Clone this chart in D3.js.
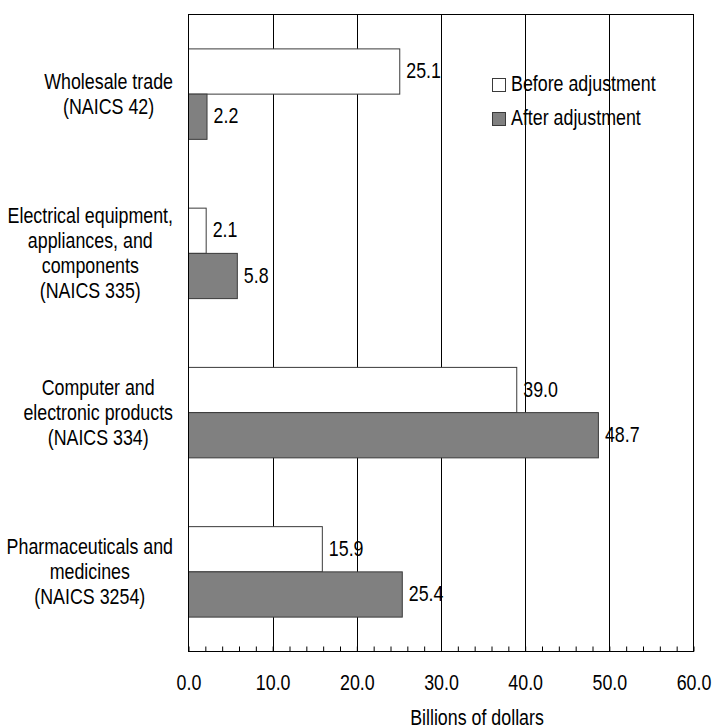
<!DOCTYPE html>
<html>
<head>
<meta charset="utf-8">
<script src="https://cdn.jsdelivr.net/npm/d3@7"></script>
<style>
  html, body { margin: 0; padding: 0; background: #fff; }
  svg { display: block; }
  text { font-family: "Liberation Sans Narrow", "Arial Narrow", "Liberation Sans", Arial, sans-serif; font-size: 22px; fill: #000; }
</style>
</head>
<body>
<svg id="chart" width="712" height="728"></svg>
<script>
// ---- data ----
const categories = [
  ["Wholesale trade", "(NAICS 42)"],
  ["Electrical equipment,", "appliances, and", "components", "(NAICS 335)"],
  ["Computer and", "electronic products", "(NAICS 334)"],
  ["Pharmaceuticals and", "medicines", "(NAICS 3254)"]
];
const seriesNames = ["Before adjustment", "After adjustment"];
const beforeValues = [25.1, 2.1, 39.0, 15.9];
const afterValues = [2.2, 5.8, 48.7, 25.4];
const tickValues = [0, 10, 20, 30, 40, 50, 60];
const tickLabels = ["0.0", "10.0", "20.0", "30.0", "40.0", "50.0", "60.0"];
const axisTitle = "Billions of dollars";

// ---- layout ----
const svg = d3.select("#chart");
const pLeft = 188.5, pRight = 693.5, pTop = 14.5, pBottom = 651.5;
const colors = ["#ffffff", "#808080"];
const strokeCol = "#3a3a3a";
const squeeze = 0.81; // emulate a narrow face

const x = d3.scaleLinear().domain([0, 60]).range([pLeft, pRight]);
const y = d3.scaleBand().domain(d3.range(categories.length)).range([pTop, pBottom])
  .paddingInner(0.432).paddingOuter(0.216);
const ySub = d3.scaleBand().domain([0, 1]).range([0, y.bandwidth()]);

// gridlines
svg.append("g").selectAll("line")
  .data(tickValues.filter(v => v > 0 && v < 60))
  .join("line")
  .attr("x1", d => Math.round(x(d)) + 0.5).attr("x2", d => Math.round(x(d)) + 0.5)
  .attr("y1", pTop).attr("y2", pBottom)
  .attr("stroke", "#000").attr("stroke-width", 1);

// minor ticks via axis
const axis = d3.axisBottom(x)
  .tickValues(d3.range(0, 61, 2))
  .tickSize(-5)
  .tickSizeOuter(0)
  .tickFormat(d => {
    const i = tickValues.indexOf(d);
    return i >= 0 ? tickLabels[i] : "";
  });
const gAxis = svg.append("g").attr("transform", `translate(0,${pBottom})`).call(axis);
gAxis.select(".domain").remove();
gAxis.selectAll(".tick line").attr("stroke", "#000");
gAxis.selectAll(".tick text")
  .attr("y", 38.5).attr("dy", 0)
  .style("font-family", '"Liberation Sans Narrow", "Arial Narrow", "Liberation Sans", Arial, sans-serif')
  .style("font-size", "22px").attr("fill", "#000");

// bars
const data = categories.map((c, i) => ({ i, vals: [beforeValues[i], afterValues[i]] }));
const groups = svg.append("g").selectAll("g").data(data).join("g")
  .attr("transform", d => `translate(0,${y(d.i)})`);
groups.selectAll("rect").data(d => d.vals.map((v, k) => ({ v, k })))
  .join("rect")
  .attr("x", x(0))
  .attr("y", d => ySub(d.k))
  .attr("width", d => x(d.v) - x(0))
  .attr("height", ySub.bandwidth())
  .attr("fill", d => colors[d.k])
  .attr("stroke", strokeCol).attr("stroke-width", 1);
groups.selectAll("text.val").data(d => d.vals.map((v, k) => ({ v, k })))
  .join("text").attr("class", "val")
  .attr("x", d => x(d.v) + 6.5)
  .attr("y", d => ySub(d.k) + ySub.bandwidth() / 2)
  .attr("dy", "0.3em")
  .text(d => d.v.toFixed(1));

// plot frame
svg.append("rect").attr("x", pLeft).attr("y", pTop)
  .attr("width", pRight - pLeft).attr("height", pBottom - pTop)
  .attr("fill", "none").attr("stroke", "#000").attr("stroke-width", 1);

// category labels
const lineH = 25;
categories.forEach((lines, i) => {
  const cy = y(i) + y.bandwidth() / 2;
  const g = svg.append("g");
  const ts = g.selectAll("text").data(lines).join("text")
    .attr("text-anchor", "middle")
    .attr("y", (d, j) => cy - (lines.length - 1) * lineH / 2 + 7.5 + j * lineH)
    .text(d => d);
  let maxW = 0;
  ts.each(function () { maxW = Math.max(maxW, this.getComputedTextLength()); });
  ts.attr("x", 173 - maxW * squeeze / 2);
});

// legend
const lg = svg.append("g");
seriesNames.forEach((s, k) => {
  const by = 91 + k * 34;
  lg.append("rect").attr("x", 492.5).attr("y", by - 12.5).attr("width", 13).attr("height", 13)
    .attr("fill", colors[k]).attr("stroke", strokeCol);
  lg.append("text").attr("x", 511).attr("y", by).text(s);
});

// axis title
svg.append("text").attr("x", 477).attr("y", 725).attr("text-anchor", "middle").text(axisTitle);

// condense all text to mimic the narrow typeface
svg.selectAll("text").each(function () {
  const w = this.getComputedTextLength();
  if (w > 0) {
    d3.select(this).attr("textLength", w * squeeze).attr("lengthAdjust", "spacingAndGlyphs");
  }
});
</script>
</body>
</html>
